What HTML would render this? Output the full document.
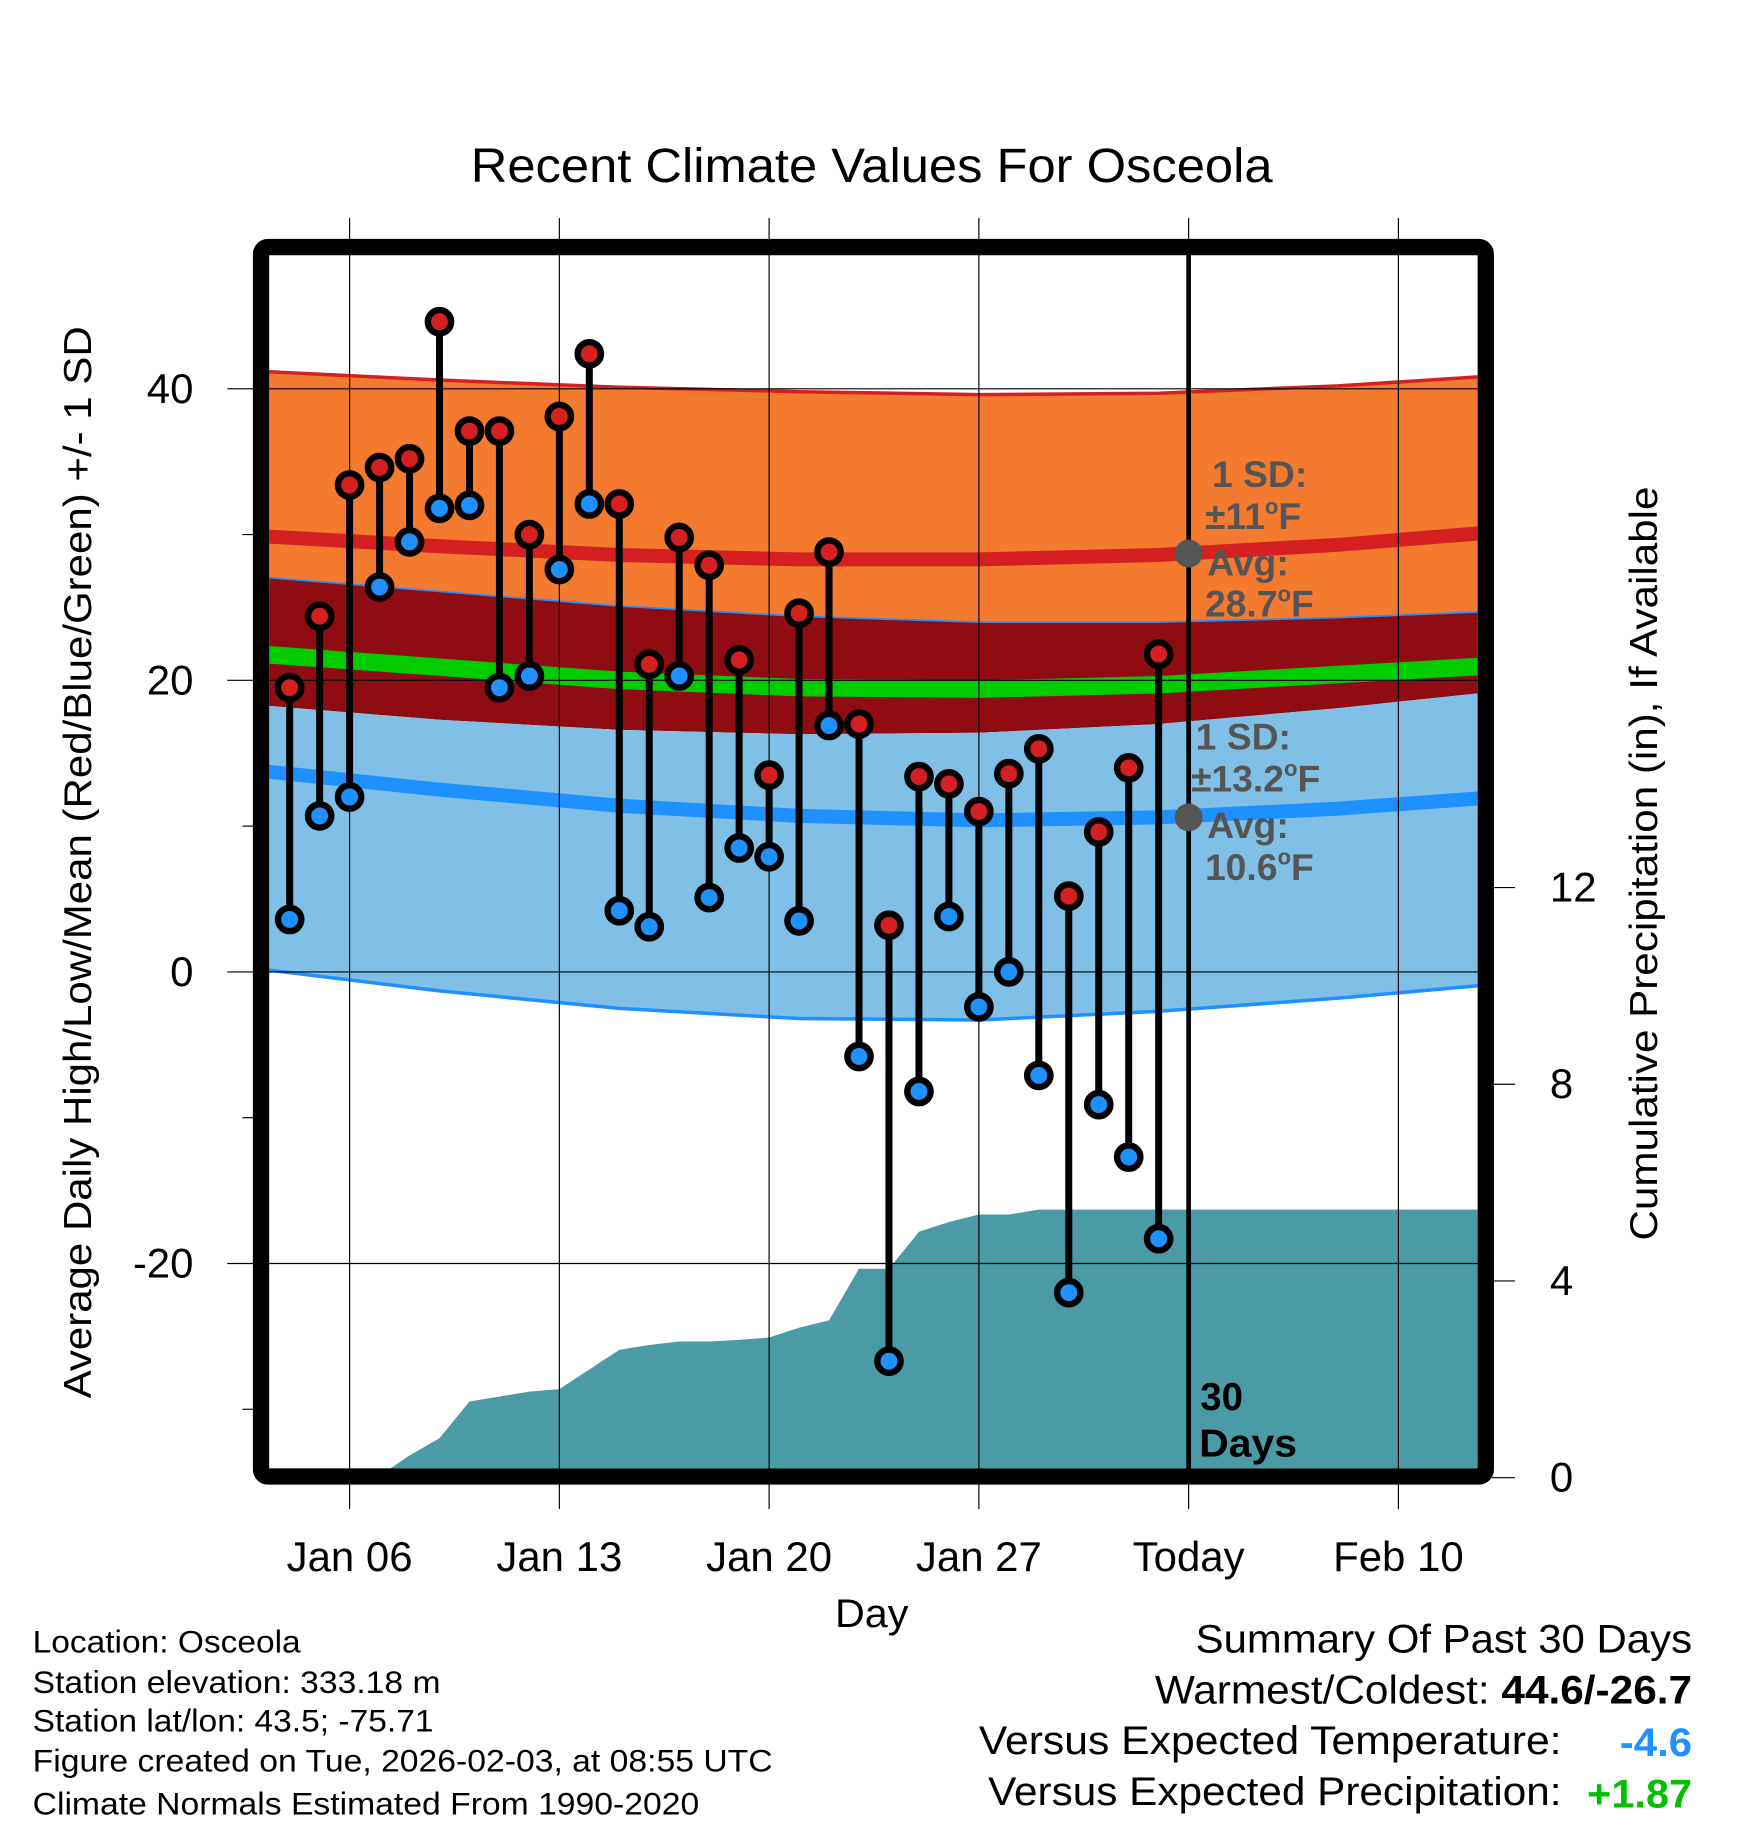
<!DOCTYPE html>
<html><head><meta charset="utf-8"><style>
html,body{margin:0;padding:0;background:#fff}
svg{display:block}
text{font-family:"Liberation Sans",sans-serif}
</style></head><body>
<svg id="chart" width="1748" height="1828" viewBox="0 0 1500 1568.6" xmlns="http://www.w3.org/2000/svg">
<defs><clipPath id="clip"><rect x="231" y="215" width="1037" height="1045"/></clipPath></defs>
<g id="plot" clip-path="url(#clip)"></g>
<g id="grid"></g>
<g id="marks"></g>
<g id="frame"></g>
<g id="labels"></g>
</svg>
<script>
const days = [4,5,6,7,8,9,10,11,12,13,14,15,16,17,18,19,20,21,22,23,24,25,26,27,28,29,30,31,32,33];
const highs = [19.5,24.4,33.4,34.6,35.2,44.6,37.1,37.1,30.0,38.1,42.4,32.1,21.1,29.8,27.9,21.4,13.5,24.6,28.8,17.0,3.2,13.4,12.9,11.0,13.6,15.3,5.2,9.6,14.0,21.8];
const lows = [3.6,10.7,12.0,26.4,29.5,31.8,32.0,19.5,20.3,27.6,32.1,4.2,3.1,20.3,5.1,8.5,7.9,3.5,16.9,-5.8,-26.7,-8.2,3.8,-2.4,0.0,-7.1,-22.0,-9.1,-12.7,-18.3];
const precipDays = [3,6.9,8,9,10,11,12,13,14,15,16,17,18,19,20,21,22,23,24,25,26,27,28,29,30,45];
const precip = [0,0,0.45,0.8,1.55,1.65,1.75,1.8,2.2,2.6,2.7,2.77,2.77,2.8,2.85,3.05,3.2,4.25,4.25,5.0,5.2,5.35,5.35,5.45,5.45,5.45];
const normDays = [3,9,15,21,27,33,39,45];
const hiPlus = [41.2,40.6,40.1,39.8,39.6,39.7,40.2,41.0];
const hiMean = [29.9,29.2,28.6,28.3,28.3,28.6,29.3,30.3];
const hiMinus = [27.1,26.1,25.1,24.4,24.0,24.0,24.3,24.8];
const avgMean = [21.8,20.9,20.0,19.5,19.4,19.7,20.4,21.1];
const loPlus = [18.3,17.3,16.6,16.3,16.4,17.0,18.1,19.4];
const loMean = [13.8,12.5,11.4,10.7,10.4,10.6,11.2,12.1];
const loMinus = [0.2,-1.3,-2.5,-3.2,-3.3,-2.7,-1.8,-0.7];
const tempTicks = [40,20,0,-20];
const tempMinor = [30,10,-10,-30];
const precipTicks = [0,4,8,12];
const xTickDays = [6,13,20,27,34,41];
const xTickLabels = ["Jan 06","Jan 13","Jan 20","Jan 27","Today","Feb 10"];

const X = d => 300 + (d-6)*25.714;
const Y = t => 834 - 12.51*t;
const P = p => 1268 - 42.2*p;
const NS = "http://www.w3.org/2000/svg";
function mk(tag, attrs, parent){const e=document.createElementNS(NS,tag);for(const k in attrs)e.setAttribute(k,attrs[k]);parent.appendChild(e);return e;}
const plot=document.getElementById('plot'),grid=document.getElementById('grid'),marks=document.getElementById('marks'),frame=document.getElementById('frame'),labels=document.getElementById('labels');

function linePts(arr){return normDays.map((d,i)=>X(d).toFixed(1)+','+Y(arr[i]).toFixed(1));}
function band(top,bot,fill,name){
  const pts=linePts(top).concat(linePts(bot).reverse());
  const e=mk('polygon',{points:pts.join(' '),fill:fill},plot);
  
  
}
function line(arr,color,w,name){
  const e=mk('polyline',{points:linePts(arr).join(' '),fill:'none',stroke:color,'stroke-width':w},plot);
  
  
}
band(hiPlus,hiMinus,'#f47a30','high-sd-band');
band(hiMinus,loPlus,'#8e0c12','overlap-band');
band(loPlus,loMinus,'#80c0e6','low-sd-band');
line(hiPlus,'#d42020',3,'high-plus-sd-line');
line(hiMinus,'#1e90ff',1.5,'high-minus-sd-line');
line(loMinus,'#1e90ff',3,'low-minus-sd-line');
line(hiMean,'#d42020',12,'normal-high-line');
line(avgMean,'#00cc00',15,'normal-mean-line');
line(loMean,'#1e90ff',12,'normal-low-line');

{
  let pts=precipDays.map((d,i)=>X(d).toFixed(1)+','+P(precip[i]).toFixed(1));
  pts.push(X(45)+','+P(0)); pts.push(X(3)+','+P(0));
  const e=mk('polygon',{points:pts.join(' '),fill:'#4a9ba5'},plot);
  
  
}

xTickDays.forEach((d,i)=>{
  const e=mk('line',{x1:X(d),x2:X(d),y1:187,y2:1295,stroke:'#000','stroke-width':1},grid);
  
  
  const t=mk('text',{x:X(d),y:1348,'font-size':36,'text-anchor':'middle'},labels);
  t.textContent=xTickLabels[i];
  
  
});
tempTicks.forEach(v=>{
  const e=mk('line',{x1:195,x2:1268,y1:Y(v),y2:Y(v),stroke:'#000','stroke-width':1},grid);
  
  
  const t=mk('text',{x:166,y:Y(v)+12,'font-size':36,'text-anchor':'end'},labels);
  t.textContent=v;
  
  
});
tempMinor.forEach(v=>{
  const e=mk('line',{x1:208,x2:220,y1:Y(v),y2:Y(v),stroke:'#000','stroke-width':1},grid);
  
  
});
precipTicks.forEach(v=>{
  const e=mk('line',{x1:1280,x2:1300,y1:P(v),y2:P(v),stroke:'#000','stroke-width':1},grid);
  
  
  const t=mk('text',{x:1330,y:P(v)+12,'font-size':36,'text-anchor':'start'},labels);
  t.textContent=v;
  
  
});

{const e=mk('line',{x1:X(34),x2:X(34),y1:215,y2:1262,stroke:'#000','stroke-width':4},marks);

}

days.forEach((d,i)=>{
  const s=mk('line',{x1:X(d),x2:X(d),y1:Y(highs[i]),y2:Y(lows[i]),stroke:'#000','stroke-width':6},marks);
  
  
});
days.forEach((d,i)=>{
  const h=mk('circle',{cx:X(d),cy:Y(highs[i]),r:10,fill:'#d42020',stroke:'#000','stroke-width':5.5},marks);
  
  
  const l=mk('circle',{cx:X(d),cy:Y(lows[i]),r:10,fill:'#1e90ff',stroke:'#000','stroke-width':5.5},marks);
  
  
});
[[28.7,'today-normal-high-dot'],[10.6,'today-normal-low-dot']].forEach(a=>{
  const c=mk('circle',{cx:X(34),cy:Y(a[0]),r:12,fill:'#555'},marks);
  
  
});

{const f=mk('rect',{x:224,y:212,width:1051,height:1055,rx:6,fill:'none',stroke:'#000','stroke-width':14},frame);

}
</script>
<script>
(function(){
const NS="http://www.w3.org/2000/svg";
const L=document.getElementById('labels');
function txt(x,y,size,str,opts){const t=document.createElementNS(NS,'text');t.setAttribute('x',x);t.setAttribute('y',y);t.setAttribute('font-size',size);
 if(opts&&opts.anchor)t.setAttribute('text-anchor',opts.anchor);if(opts&&opts.weight)t.setAttribute('font-weight',opts.weight);if(opts&&opts.fill)t.setAttribute('fill',opts.fill);if(opts&&opts.tr)t.setAttribute('transform',opts.tr);
 if(opts&&opts.len){t.setAttribute('textLength',opts.len);t.setAttribute('lengthAdjust','spacingAndGlyphs');}
 t.innerHTML=str;L.appendChild(t);return t;}
let t;
t=txt(748,156,41,'Recent Climate Values For Osceola',{anchor:'middle',len:688});


t=txt(78,740,33,'Average Daily High/Low/Mean (Red/Blue/Green) +/- 1 SD',{anchor:'middle',tr:'rotate(-90 78 740)',len:920});


t=txt(1422,741,33,'Cumulative Precipitation (in), If Available',{anchor:'middle',tr:'rotate(-90 1422 741)',len:647});


t=txt(748,1396,34,'Day',{anchor:'middle',len:63});


const g={weight:'bold',fill:'#555'};
t=txt(1040,418,32,'1 SD:',g);


t=txt(1034,454,32,'±11<tspan dy="-13" font-size="19">o</tspan><tspan dy="13">F</tspan>',g);


t=txt(1036,494,32,'Avg:',g);


t=txt(1034,529,32,'28.7<tspan dy="-13" font-size="19">o</tspan><tspan dy="13">F</tspan>',g);


t=txt(1026,643,32,'1 SD:',g);


t=txt(1022,679,32,'±13.2<tspan dy="-13" font-size="19">o</tspan><tspan dy="13">F</tspan>',g);


t=txt(1036,719,32,'Avg:',g);


t=txt(1034,755,32,'10.6<tspan dy="-13" font-size="19">o</tspan><tspan dy="13">F</tspan>',g);


t=txt(1030,1210,33,'30',{weight:'bold'});


t=txt(1029,1250,33,'Days',{weight:'bold',len:84});


const info=['Location: Osceola','Station elevation: 333.18 m','Station lat/lon: 43.5; -75.71','Figure created on Tue, 2026-02-03, at 08:55 UTC','Climate Normals Estimated From 1990-2020'];
const infoLen=[230,350,344,635,572];
const iy=[1418,1453,1486,1520,1557];
info.forEach((s,i)=>{const e=txt(28,iy[i],27,s,{len:infoLen[i]});

});
t=txt(1452,1418,34,'Summary Of Past 30 Days',{anchor:'end',len:426});


t=txt(1452,1462,34,'Warmest/Coldest: <tspan font-weight="bold">44.6/-26.7</tspan>',{anchor:'end',len:461});


t=txt(1340,1505,34,'Versus Expected Temperature:',{anchor:'end',len:500});


t=txt(1452,1507,34,'-4.6',{anchor:'end',weight:'bold',fill:'#1e90ff',len:62});


t=txt(1340,1549,34,'Versus Expected Precipitation:',{anchor:'end',len:492});


t=txt(1452,1551,34,'+1.87',{anchor:'end',weight:'bold',fill:'#00c000',len:90});


})();
</script>
</body></html>
